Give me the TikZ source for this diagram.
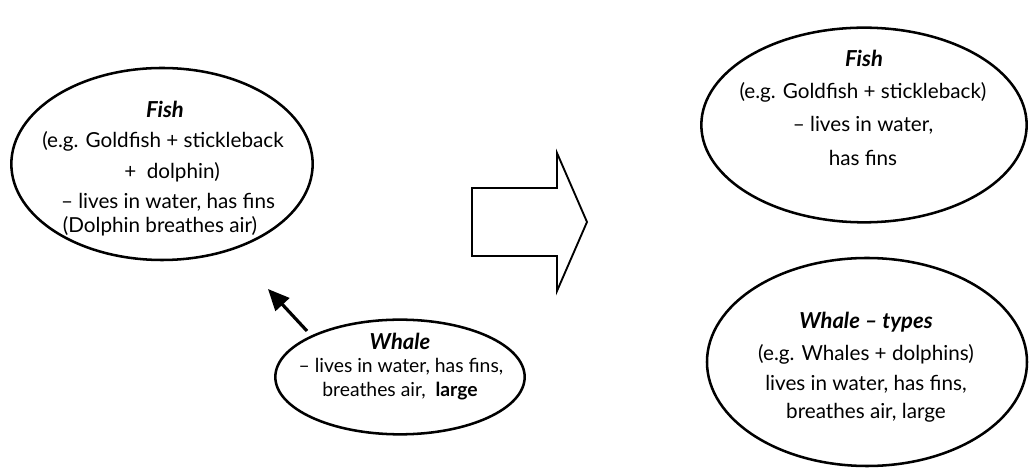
\documentclass[tikz,border=0pt]{standalone}
\usepackage{fontspec}
\setmainfont{Lato}
\usetikzlibrary{shapes.geometric,arrows.meta}
\begin{document}
\begin{tikzpicture}[x=0.75pt,y=-0.75pt,
  oval/.style={draw, ellipse, line width=1.9pt, inner sep=0pt},
  lbl/.style={inner sep=0pt, font=\fontsize{15.5}{18}\selectfont},
  slbl/.style={inner sep=0pt, font=\fontsize{14.5}{17}\selectfont},
  ttl/.style={inner sep=0pt, font=\fontsize{16.5}{19}\selectfont\bfseries\itshape},
  blockarrow/.style={draw, line width=1.4pt, line join=miter},
  link/.style={line width=2.4pt, -{Triangle[length=16pt,width=14pt]}}]
\useasboundingbox (0,0) rectangle (1029,473);
% left fish
\node[oval, minimum width=226pt, minimum height=144pt] (fishA) at (162,164) {};
\node[ttl] (fA1) at (165,109) {Fish};
\node[lbl] (fA2) at (163,141) {(e.g. Goldfish + stickleback};
\node[lbl] (fA3) at (172,172) {+ \ dolphin)};
\node[lbl] (fA4) at (168,202) {– lives in water, has fins};
\node[lbl] (fA5) at (160,226) {(Dolphin breathes air)};
% left whale
\node[oval, minimum width=187pt, minimum height=86pt] (whaleA) at (400,377) {};
\node[ttl] (wA1) at (400,341) {Whale};
\node[slbl] (wA2) at (401,367) {– lives in water, has fins,};
\node[slbl] (wA3) at (400,391) {breathes air, \ \textbf{large}};
% arrow whale -> fish
\coordinate (as) at (307,331);
\coordinate (ae) at (268,289);
\draw[link] (as) -- (ae);
% block arrow
\draw[blockarrow] (472,188) -- (557,188) -- (557,153) -- (587,222) -- (557,291) -- (557,256) -- (472,256) -- cycle;
% right fish
\node[oval, minimum width=244pt, minimum height=146pt] (fishB) at (864,125) {};
\node[ttl] (fB1) at (864,58) {Fish};
\node[lbl] (fB2) at (863,92) {(e.g. Goldfish + stickleback)};
\node[lbl] (fB3) at (863,125) {– lives in water,};
\node[lbl] (fB4) at (863,158) {has fins};
% right whale
\node[oval, minimum width=240pt, minimum height=156pt] (whaleB) at (867,362) {};
\node[ttl] (wB1) at (866,322) {Whale – types};
\node[lbl] (wB2) at (866,354) {(e.g. Whales + dolphins)};
\node[lbl] (wB3) at (866,384) {lives in water, has fins,};
\node[lbl] (wB4) at (866,413) {breathes air, large};
\end{tikzpicture}
\end{document}
